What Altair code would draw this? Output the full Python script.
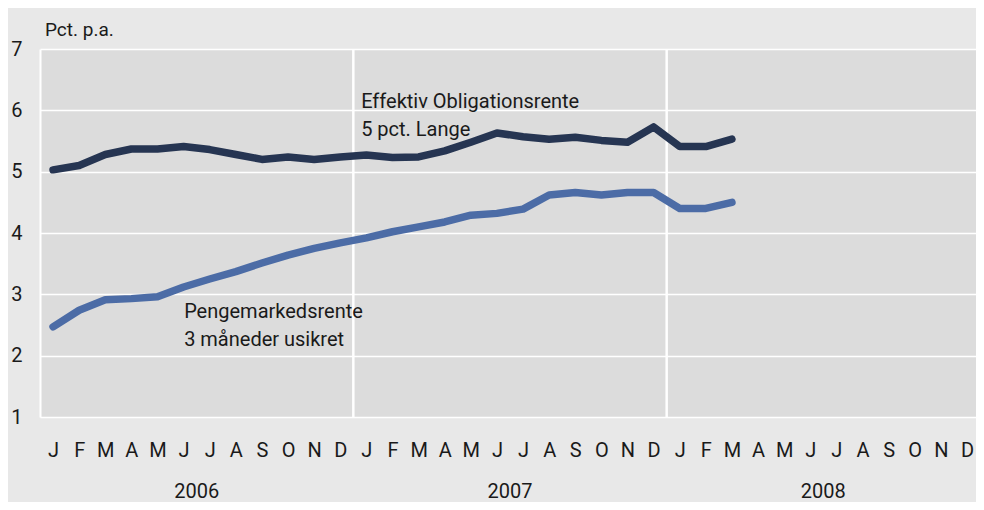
import altair as alt
import pandas as pd

month_letters = ["J", "F", "M", "A", "M", "J", "J", "A", "S", "O", "N", "D"] * 3
years = ["2006", "2007", "2008"]
series_names = ["Effektiv Obligationsrente", "Pengemarkedsrente"]
obligation = [5.03, 5.10, 5.28, 5.37, 5.37, 5.41, 5.36, 5.28, 5.20, 5.24, 5.20, 5.24,
              5.27, 5.23, 5.24, 5.34, 5.48, 5.63, 5.57, 5.53, 5.56, 5.51, 5.48, 5.73,
              5.41, 5.41, 5.53]
pengemarked = [2.47, 2.74, 2.91, 2.93, 2.96, 3.12, 3.25, 3.37, 3.51, 3.64, 3.75, 3.84,
               3.92, 4.02, 4.10, 4.18, 4.29, 4.32, 4.39, 4.62, 4.66, 4.62, 4.66, 4.66,
               4.40, 4.40, 4.50]
annotations = ["Effektiv Obligationsrente", "5 pct. Lange", "Pengemarkedsrente", "3 måneder usikret"]
annot_x = [12.3, 12.3, 5.52, 5.52]
annot_y = [6.14, 5.68, 2.71, 2.26]
year_bounds = [12, 24]

FONT = "Roboto"
W, H = 936, 368
FULL = 940

rows = []
for name, vals in zip(series_names, [obligation, pengemarked]):
    for i, v in enumerate(vals):
        rows.append({"m": i + 0.5, "v": v, "s": name})
df = pd.DataFrame(rows)

xscale = alt.Scale(domain=[0, 36], range=[0, FULL], nice=False)
yscale = alt.Scale(domain=[1, 7], nice=False, zero=False)

label_expr = "[" + ",".join("'%s'" % l for l in month_letters) + "][floor(datum.value)]"

xaxis = alt.Axis(values=[i + 0.5 for i in range(36)], labelExpr=label_expr,
                 domain=False, ticks=False, grid=False, labelOverlap=False,
                 labelBound=False, labelFlush=False, labelSeparation=0,
                 labelPadding=33, labelBaseline="middle", labelFont=FONT,
                 labelFontSize=20, labelColor="#1a1a1a", title=None)
yaxis = alt.Axis(values=[1, 2, 3, 4, 5, 6, 7], format="d", grid=True, gridColor="white",
                 gridWidth=1.5, gridOpacity=1, domain=True, domainColor="white", domainWidth=2,
                 ticks=False, labelPadding=18, labelFont=FONT, labelFontSize=20,
                 labelColor="#1a1a1a", labelOverlap=False, title=None)

rules = alt.Chart(pd.DataFrame({"b": year_bounds})).mark_rule(color="white", strokeWidth=2.5).encode(
    x=alt.X("b:Q", scale=xscale, axis=xaxis),
    y=alt.value(0),
    y2=alt.value(H),
)

lines = alt.Chart(df).mark_line(strokeWidth=7.5, strokeCap="round", strokeJoin="round").encode(
    x=alt.X("m:Q", scale=xscale, axis=xaxis),
    y=alt.Y("v:Q", scale=yscale, axis=yaxis),
    color=alt.Color("s:N", scale=alt.Scale(domain=series_names, range=["#263552", "#4c6ca6"]),
                    legend=None),
)

ann = alt.Chart(pd.DataFrame({"t": annotations, "x": annot_x, "y": annot_y})).mark_text(
    align="left", baseline="middle", font=FONT, fontSize=20, color="#1a1a1a"
).encode(
    x=alt.X("x:Q", scale=xscale, axis=xaxis),
    y=alt.Y("y:Q", scale=yscale, axis=yaxis),
    text="t:N",
)

yr = alt.Chart(pd.DataFrame({"t": years, "x": [6, 18, 30]})).mark_text(
    align="center", baseline="middle", font=FONT, fontSize=20, color="#1a1a1a"
).encode(
    x=alt.X("x:Q", scale=xscale, axis=xaxis),
    y=alt.value(H + 75),
    text="t:N",
)

unit = alt.Chart(pd.DataFrame({"t": ["Pct. p.a."]})).mark_text(
    align="left", baseline="middle", font=FONT, fontSize=19, color="#1a1a1a"
).encode(
    x=alt.value(5),
    y=alt.value(-19),
    text="t:N",
)

chart = alt.layer(rules, lines, ann, yr, unit).properties(
    width=W, height=H,
    autosize=alt.AutoSizeParams(type="none"),
    padding={"left": 32, "top": 41, "right": 0, "bottom": 85},
    background="#e8e8e8",
).configure_view(fill="#dcdcdc", strokeWidth=0)

chart.save("out.html", embed_options={"renderer": "svg", "actions": False})
